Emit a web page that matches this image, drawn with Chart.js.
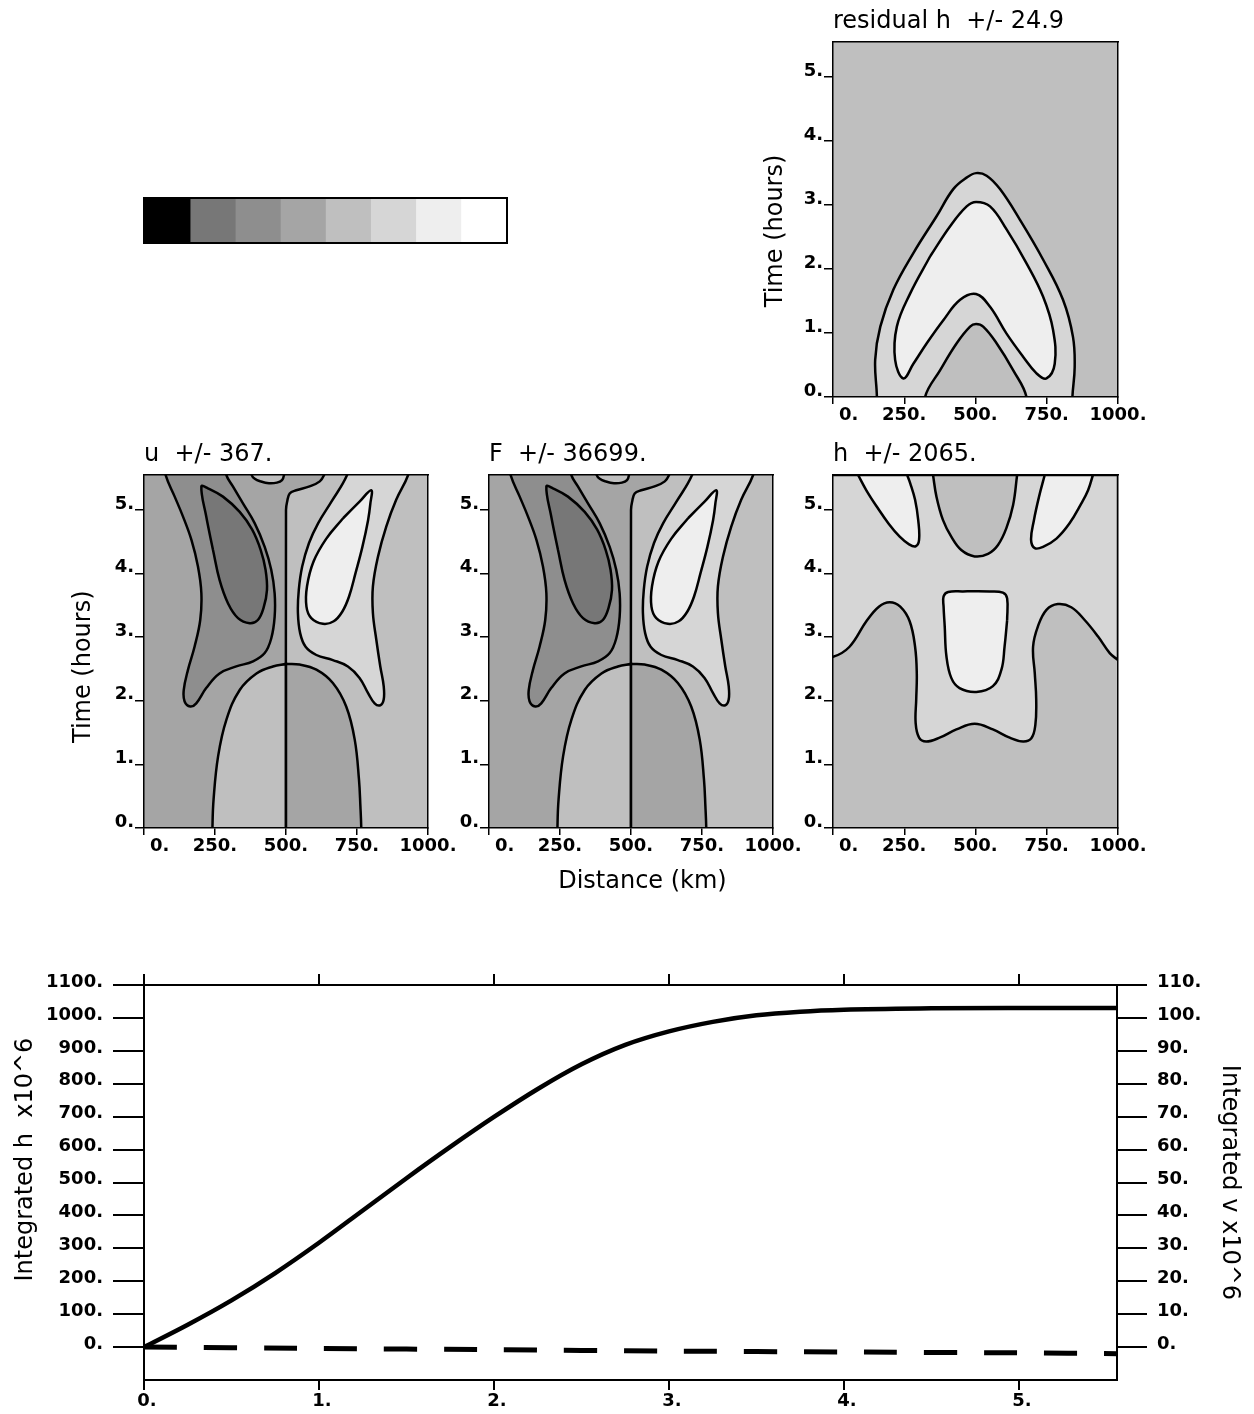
<!DOCTYPE html>
<html>
<head>
<meta charset="utf-8">
<script src="https://cdn.jsdelivr.net/npm/chart.js@4.4.1/dist/chart.umd.min.js"></script>
<style>
  html, body { margin: 0; padding: 0; background: #fff; }
  body { width: 1254px; height: 1414px; position: relative; overflow: hidden; }
  .box { position: absolute; }
  #barBox { left: 143px; top: 197px; width: 365px; height: 47px; border: 2px solid #000; box-sizing: border-box; }
</style>
</head>
<body>
<div class="box" id="barBox"><canvas id="bar-chart" width="361" height="43"></canvas></div>
<div class="box" style="left:758px;top:0px"><canvas id="res-chart" width="400" height="431"></canvas></div>
<div class="box" style="left:69px;top:433px"><canvas id="u-chart" width="399" height="429"></canvas></div>
<div class="box" style="left:414px;top:433px"><canvas id="f-chart" width="399" height="465"></canvas></div>
<div class="box" style="left:758px;top:433px"><canvas id="h-chart" width="400" height="429"></canvas></div>
<div class="box" style="left:0px;top:955px"><canvas id="int-chart" width="1254" height="459"></canvas></div>

<script>
// colour scale levels (fraction of +/- max)
const levelEdges = [-1, -0.75, -0.5, -0.25, 0, 0.25, 0.5, 0.75, 1];

// contour outlines, [distance km, time hours]
// residual h
const resOuter = [[152,-0.5],[154,0],[148,0.58],[166,1.10],[212,1.68],[282,2.25],[364,2.83],[422,3.25],[469,3.43],[502,3.50],[539,3.46],[586,3.25],[656,2.77],[737,2.15],[807,1.52],[842,0.94],[848,0.47],[840,0],[838,-0.5],[838,-0.5],[152,-0.5]];
const resBoomerang = [[341,2.20],[411,2.67],[469,2.98],[502,3.05],[551,2.98],[609,2.62],[679,2.09],[737,1.57],[772,1.05],[778,0.52],[749,0.29],[714,0.37],[667,0.63],[609,0.99],[551,1.41],[502,1.61],[446,1.52],[387,1.20],[329,0.84],[282,0.52],[247,0.29],[218,0.58],[224,1.10],[271,1.62],[341,2.20]];
const resInner = [[321,-0.5],[323,0],[376,0.42],[434,0.84],[481,1.10],[502,1.14],[527,1.10],[574,0.84],[632,0.42],[679,0],[681,-0.5],[681,-0.5],[321,-0.5]];

// u and F (same pattern)
const uRightHalf = [[500,-1],[500,-1],[500,5.0],[504,5.13],[513,5.26],[536,5.31],[583,5.37],[619,5.45],[634,5.55],[645,5.7],[645,5.7],[1100,5.7],[1100,5.7],[1100,-1],[1100,-1],[500,-1]];
const uLeftBand = [[72,5.75],[72,5.75],[76,5.55],[108,5.21],[137,4.90],[167,4.53],[190,4.11],[202,3.69],[198,3.27],[178,2.85],[155,2.49],[140,2.17],[143,1.99],[163,1.91],[184,1.96],[219,2.20],[266,2.43],[325,2.54],[384,2.62],[425,2.75],[448,2.98],[460,3.32],[460,3.69],[448,4.06],[425,4.42],[390,4.79],[349,5.10],[313,5.37],[290,5.55],[286,5.75],[286,5.75],[72,5.75]];
const uDarkCore = [[243,4.37],[266,3.90],[296,3.53],[331,3.30],[372,3.22],[401,3.27],[421,3.46],[433,3.74],[428,4.06],[411,4.37],[381,4.69],[337,4.97],[278,5.21],[225,5.34],[202,5.37],[219,4.90],[243,4.37]];
const uRightBand = [[935,5.75],[935,5.75],[930,5.55],[888,5.16],[853,4.74],[824,4.27],[806,3.80],[806,3.38],[818,2.96],[832,2.54],[844,2.23],[844,2.02],[832,1.93],[812,1.96],[789,2.12],[759,2.36],[718,2.54],[665,2.64],[607,2.72],[569,2.85],[550,3.06],[542,3.38],[545,3.74],[557,4.11],[581,4.48],[613,4.79],[660,5.13],[715,5.55],[720,5.75],[720,5.75],[935,5.75]];
const uLightCore = [[701,4.87],[642,4.55],[597,4.19],[574,3.80],[572,3.48],[589,3.30],[630,3.21],[668,3.25],[698,3.40],[722,3.64],[745,4.01],[769,4.42],[789,4.84],[797,5.10],[800,5.31],[759,5.13],[701,4.87]];
const uTopCap = [[376,5.7],[376,5.7],[379,5.55],[390,5.49],[410,5.45],[440,5.42],[468,5.43],[486,5.47],[493,5.55],[495,5.7],[495,5.7],[376,5.7]];
const uArchLeft = [[500,-0.5],[500,-0.5],[500,2.58],[500,2.58],[454,2.54],[396,2.43],[337,2.17],[290,1.70],[261,1.13],[245,0.45],[241,0],[240,-0.5],[240,-0.5],[500,-0.5]];
const uArchRight = [[500,-0.5],[500,-0.5],[500,2.58],[500,2.58],[548,2.57],[607,2.49],[665,2.28],[712,1.91],[742,1.39],[757,0.76],[762,0.34],[765,0],[766,-0.5],[766,-0.5],[500,-0.5]];

// h
const hMiddle = [[-50,2.69],[0,2.69],[58,2.85],[117,3.25],[161,3.48],[199,3.55],[236,3.48],[269,3.25],[288,2.85],[294,2.43],[292,2.02],[290,1.65],[302,1.42],[327,1.36],[374,1.42],[433,1.55],[497,1.64],[561,1.55],[620,1.42],[667,1.36],[696,1.41],[710,1.62],[713,2.02],[708,2.43],[702,2.85],[719,3.17],[749,3.43],[789,3.52],[836,3.47],[883,3.27],[930,3.01],[971,2.75],[1000,2.64],[1000,2.64],[1000,5.55],[1000,5.55],[-50,5.55],[-50,5.55],[-50,2.69]];
const hTopTrough = [[351,5.55],[351,5.55],[363,5.21],[386,4.84],[415,4.58],[450,4.37],[497,4.27],[544,4.31],[579,4.45],[608,4.71],[632,5.08],[646,5.55],[646,5.55],[351,5.55]];
const hLeftLobe = [[88,5.55],[88,5.55],[117,5.31],[154,5.05],[196,4.78],[234,4.58],[267,4.46],[290,4.43],[302,4.53],[299,4.84],[288,5.16],[271,5.42],[260,5.55],[260,5.55],[88,5.55]];
const hRightLobe = [[743,5.55],[743,5.55],[723,5.21],[705,4.84],[695,4.53],[708,4.40],[737,4.42],[784,4.55],[830,4.79],[871,5.10],[895,5.31],[912,5.55],[912,5.55],[743,5.55]];
const hCenterBox = [[611,3.27],[602,2.85],[591,2.49],[561,2.23],[503,2.14],[444,2.20],[415,2.36],[398,2.70],[392,3.17],[388,3.48],[388,3.64],[404,3.71],[456,3.72],[550,3.72],[596,3.70],[611,3.61],[611,3.27]];

const fullDomain = [[-100,-1],[1100,-1],[1100,7],[-100,7],[-100,-1]];

// integrated quantities
const timeH = [0, 0.25, 0.5, 0.75, 1.0, 1.25, 1.5, 1.75, 2.0, 2.25, 2.5, 2.75, 3.0, 3.25, 3.5, 3.75, 4.0, 4.5, 5.0, 5.56];
const integratedH = [0, 68, 142, 225, 317, 415, 513, 608, 699, 784, 859, 918, 959, 988, 1008, 1019, 1025, 1029, 1030, 1030];
const timeV = [0, 1, 2, 3, 4, 5, 5.56];
const integratedV = [0, -0.4, -0.8, -1.2, -1.5, -1.75, -2.0];

const hTicksLeft = [0, 100, 200, 300, 400, 500, 600, 700, 800, 900, 1000, 1100];

Chart.defaults.font.family = 'DejaVu Sans';
Chart.defaults.color = '#000';

const grey = ['#000000', '#777777', '#8e8e8e', '#a5a5a5', '#bfbfbf', '#d6d6d6', '#eeeeee', '#ffffff'];
const tickFont = { family: 'DejaVu Sans', size: 18, weight: 'bold' };
const titleFont = { family: 'DejaVu Sans', size: 24, weight: 'normal' };
const axisTitleFont = { family: 'DejaVu Sans', size: 24, weight: 'normal' };

// colour bar
new Chart(document.getElementById('bar-chart'), {
    type: 'bar',
    data: {
        labels: [''],
        datasets: grey.map((c, i) => ({
            data: [[levelEdges[i], levelEdges[i + 1]]],
            backgroundColor: c,
            borderWidth: 0,
            barPercentage: 1,
            categoryPercentage: 1
        }))
    },
    options: {
        indexAxis: 'y',
        responsive: false,
        animation: false,
        events: [],
        layout: { padding: 0 },
        plugins: { legend: { display: false }, tooltip: { enabled: false } },
        scales: {
            x: { display: false, min: -1, max: 1 },
            y: { display: false, stacked: true }
        }
    }
});

function layer(points, color, tension) {
    return {
        data: points.map(p => ({ x: p[0], y: p[1] })),
        showLine: true,
        fill: 'shape',
        backgroundColor: color,
        borderColor: '#000',
        borderWidth: 2.5,
        pointRadius: 0,
        pointHoverRadius: 0,
        tension: tension === undefined ? 0.4 : tension,
        capBezierPoints: false,
        clip: 0
    };
}

function contourPanel(id, title, layers, opts) {
    const frame = { color: '#000', width: 1.5, z: 1 };
    new Chart(document.getElementById(id), {
        type: 'scatter',
        data: { datasets: layers.slice().reverse() },
        options: {
            responsive: false,
            animation: false,
            events: [],
            layout: { padding: { top: 7.2, right: 40, left: 0, bottom: 0 } },
            plugins: {
                legend: { display: false },
                tooltip: { enabled: false },
                title: {
                    display: true, text: title, align: 'start', fullSize: false,
                    font: titleFont, color: '#000', padding: { top: 0, bottom: 6 }
                }
            },
            scales: {
                x: {
                    type: 'linear', min: 0, max: 1000,
                    afterFit: s => { s.height = opts.bottom; },
                    ticks: {
                        stepSize: 250, font: tickFont, color: '#000', padding: 1,
                        maxRotation: 0, autoSkip: false,
                        callback: v => v === 0 ? '     0.' : v + '.'
                    },
                    grid: { drawOnChartArea: false, tickLength: 7, color: '#000', lineWidth: 1.5 },
                    border: frame,
                    title: {
                        display: !!opts.xTitle, text: opts.xTitle || '',
                        font: axisTitleFont, color: '#000', padding: { top: 0, bottom: 2 }
                    }
                },
                y: {
                    type: 'linear', min: 0, max: 5.55,
                    afterFit: s => { s.width = 75; },
                    ticks: {
                        stepSize: 1, includeBounds: false, labelOffset: -6, padding: 1,
                        font: tickFont, color: '#000',
                        callback: v => v + '.'
                    },
                    grid: { drawOnChartArea: false, tickLength: 9, color: '#000', lineWidth: 1.5 },
                    border: frame,
                    title: {
                        display: !!opts.yTitle, text: opts.yTitle || '',
                        font: axisTitleFont, color: '#000', padding: { top: opts.yTitlePad || 0, bottom: 0 }
                    }
                },
                xTop: {
                    type: 'linear', position: 'top', min: 0, max: 1000,
                    afterFit: s => { s.height = 0; },
                    ticks: { display: false },
                    grid: { display: false },
                    border: frame
                },
                yRight: {
                    type: 'linear', position: 'right', min: 0, max: 5.55,
                    afterFit: s => { s.width = 0; },
                    ticks: { display: false },
                    grid: { display: false },
                    border: frame
                }
            }
        }
    });
}

function uPattern() {
    return [
        layer(fullDomain, grey[3], 0),
        layer(uRightHalf, grey[4]),
        layer(uLeftBand, grey[2]),
        layer(uDarkCore, grey[1]),
        layer(uRightBand, grey[5]),
        layer(uLightCore, grey[6]),
        layer(uTopCap, grey[4]),
        layer(uArchLeft, grey[4]),
        layer(uArchRight, grey[3])
    ];
}

contourPanel('res-chart', 'residual h  +/- 24.9', [
    layer(fullDomain, grey[4], 0),
    layer(resOuter, grey[5]),
    layer(resBoomerang, grey[6]),
    layer(resInner, grey[4])
], { bottom: 34, yTitle: 'Time (hours)   ', yTitlePad: 3 });

contourPanel('u-chart', 'u  +/- 367.', uPattern(), { bottom: 34, yTitle: 'Time (hours)    ' });

contourPanel('f-chart', 'F  +/- 36699.', uPattern(), { bottom: 70, xTitle: '   Distance (km)' });

contourPanel('h-chart', 'h  +/- 2065.', [
    layer(fullDomain, grey[4], 0),
    layer(hMiddle, grey[5]),
    layer(hTopTrough, grey[4]),
    layer(hLeftLobe, grey[6]),
    layer(hRightLobe, grey[6]),
    layer(hCenterBox, grey[6])
], { bottom: 34 });

// integrated h and v
const edge = { color: '#000', width: 2, z: 1 };
new Chart(document.getElementById('int-chart'), {
    type: 'line',
    data: {
        datasets: [
            {
                label: 'Integrated h',
                data: timeH.map((t, i) => ({ x: t, y: integratedH[i] })),
                yAxisID: 'y',
                borderColor: '#000',
                borderWidth: 4.5,
                pointRadius: 0,
                cubicInterpolationMode: 'monotone',
                fill: false
            },
            {
                label: 'Integrated v',
                data: timeV.map((t, i) => ({ x: t, y: integratedV[i] })),
                yAxisID: 'y2',
                borderColor: '#000',
                borderWidth: 5,
                borderDash: [33, 27],
                pointRadius: 0,
                tension: 0.3,
                fill: false
            }
        ]
    },
    options: {
        responsive: false,
        animation: false,
        events: [],
        layout: { padding: 0 },
        plugins: { legend: { display: false }, tooltip: { enabled: false } },
        scales: {
            x: {
                type: 'linear', min: 0, max: 5.56,
                afterFit: s => { s.height = 34; },
                ticks: {
                    stepSize: 1, includeBounds: false, labelOffset: 3, padding: 1,
                    font: tickFont, color: '#000', maxRotation: 0,
                    callback: v => v + '.'
                },
                grid: { drawOnChartArea: false, tickLength: 10, color: '#000', lineWidth: 2 },
                border: edge
            },
            xTop: {
                type: 'linear', position: 'top', min: 0, max: 5.56,
                afterFit: s => { s.height = 30; },
                ticks: { stepSize: 1, includeBounds: false, display: false },
                grid: { drawOnChartArea: false, tickLength: 11, color: '#000', lineWidth: 2 },
                border: edge
            },
            y: {
                type: 'linear', position: 'left', min: -100, max: 1100,
                afterBuildTicks: s => { s.ticks = hTicksLeft.map(v => ({ value: v })); },
                afterFit: s => { s.width = 144; },
                ticks: {
                    padding: 10, labelOffset: -3, font: tickFont, color: '#000',
                    callback: v => v + '.'
                },
                grid: { drawOnChartArea: false, tickLength: 31, color: '#000', lineWidth: 2 },
                border: edge,
                title: {
                    display: true, text: '      Integrated h  x10^6',
                    font: axisTitleFont, color: '#000', padding: { top: 11, bottom: 0 }
                }
            },
            y2: {
                type: 'linear', position: 'right', min: -10, max: 110,
                afterBuildTicks: s => { s.ticks = hTicksLeft.map(v => ({ value: v / 10 })); },
                afterFit: s => { s.width = 137; },
                ticks: {
                    padding: 10, labelOffset: -3, font: tickFont, color: '#000',
                    callback: v => v + '.'
                },
                grid: { drawOnChartArea: false, tickLength: 30, color: '#000', lineWidth: 2 },
                border: edge,
                title: {
                    display: true, text: 'Integrated v x10^6',
                    font: axisTitleFont, color: '#000', padding: { top: 10, bottom: 0 }
                }
            }
        }
    }
});
</script>
</body>
</html>
